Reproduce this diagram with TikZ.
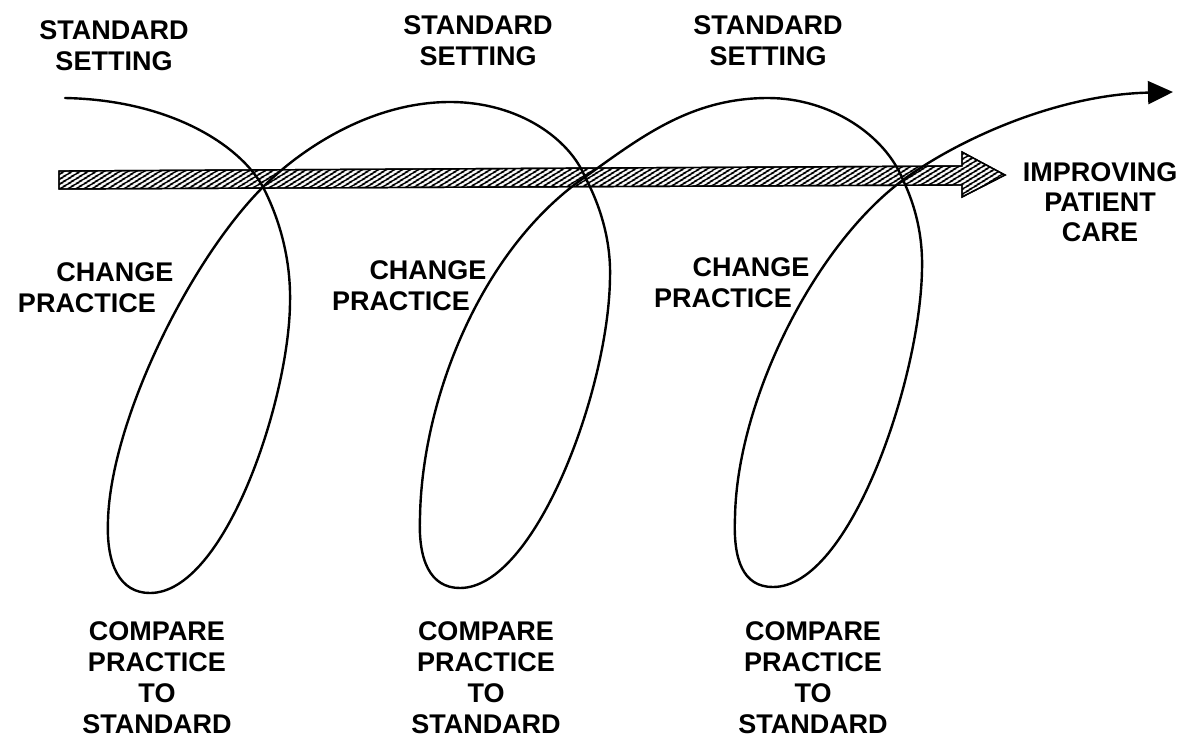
\documentclass[tikz,border=0pt]{standalone}
\usepackage{fontspec}
\setmainfont{Liberation Sans}
\usetikzlibrary{arrows.meta,patterns.meta}
\begin{document}
\begin{tikzpicture}[x=1pt,y=-1pt,
  lbl/.style={font=\fontsize{27}{31}\selectfont\bfseries, align=center, inner sep=0pt},
  spiral/.style={line width=2.4pt, line cap=round, line join=round},
  hatchbar/.style={draw=black, line width=1.4pt, fill=white,
    pattern={Lines[angle=32,distance=4pt,line width=2.3pt]}}]
\useasboundingbox (0,0) rectangle (1186,740);
% hatched arrow
\path[hatchbar] (59,171) -- (962,166) -- (962,152) -- (1005,175) -- (962,197) -- (962,185) -- (59,189) -- cycle;
\draw[hatchbar, fill=none, pattern=none] (59,171) -- (962,166) -- (962,152) -- (1005,175) -- (962,197) -- (962,185) -- (59,189) -- cycle;
% spiral
\coordinate (s0) at (65,98);
\coordinate (x1) at (263,187);
\coordinate (x2) at (585,177);
\coordinate (x3) at (903,180);
\coordinate (tip) at (1173,92);
\draw[spiral, -{Triangle[length=25pt,width=23pt]}] (s0)
  .. controls (170,100) and (240,145) .. (x1)
  .. controls (280,220) and (291,260) .. (290,303)
  .. controls (289,400) and (225,593) .. (150,593)
  .. controls (120,593) and (106,565) .. (108,520)
  .. controls (111,420) and (190,260) .. (x1)
  .. controls (300,150) and (370,102) .. (450,102)
  .. controls (520,102) and (570,140) .. (x2)
  .. controls (600,205) and (611,240) .. (610,277)
  .. controls (609,390) and (535,588) .. (460,588)
  .. controls (430,588) and (418,560) .. (420,517)
  .. controls (422,400) and (480,250) .. (x2)
  .. controls (640,138) and (690,98) .. (768,98)
  .. controls (830,98) and (885,135) .. (x3)
  .. controls (915,205) and (923,235) .. (922,270)
  .. controls (920,380) and (850,587) .. (773,587)
  .. controls (743,587) and (733,560) .. (735,517)
  .. controls (737,400) and (815,245) .. (x3)
  .. controls (950,145) and (1050,95) .. (tip);
% labels
\node[lbl] (ss1) at (114,45.5) {STANDARD\\SETTING};
\node[lbl] (ss2) at (478,41) {STANDARD\\SETTING};
\node[lbl] (ss3) at (768,40.5) {STANDARD\\SETTING};
\node[lbl] (ch1) at (115,272) {CHANGE};
\node[lbl] (pr1) at (87,303) {PRACTICE};
\node[lbl] (ch2) at (428,270) {CHANGE};
\node[lbl] (pr2) at (401,301) {PRACTICE};
\node[lbl] (ch3) at (751,267) {CHANGE};
\node[lbl] (pr3) at (723,298) {PRACTICE};
\node[lbl] (cp1) at (157,678) {COMPARE\\PRACTICE\\TO\\STANDARD};
\node[lbl] (cp2) at (486,678) {COMPARE\\PRACTICE\\TO\\STANDARD};
\node[lbl] (cp3) at (813,678) {COMPARE\\PRACTICE\\TO\\STANDARD};
\node[lbl, font=\fontsize{27}{30}\selectfont\bfseries] (ipc) at (1100,202.5) {IMPROVING\\PATIENT\\CARE};
\end{tikzpicture}
\end{document}
